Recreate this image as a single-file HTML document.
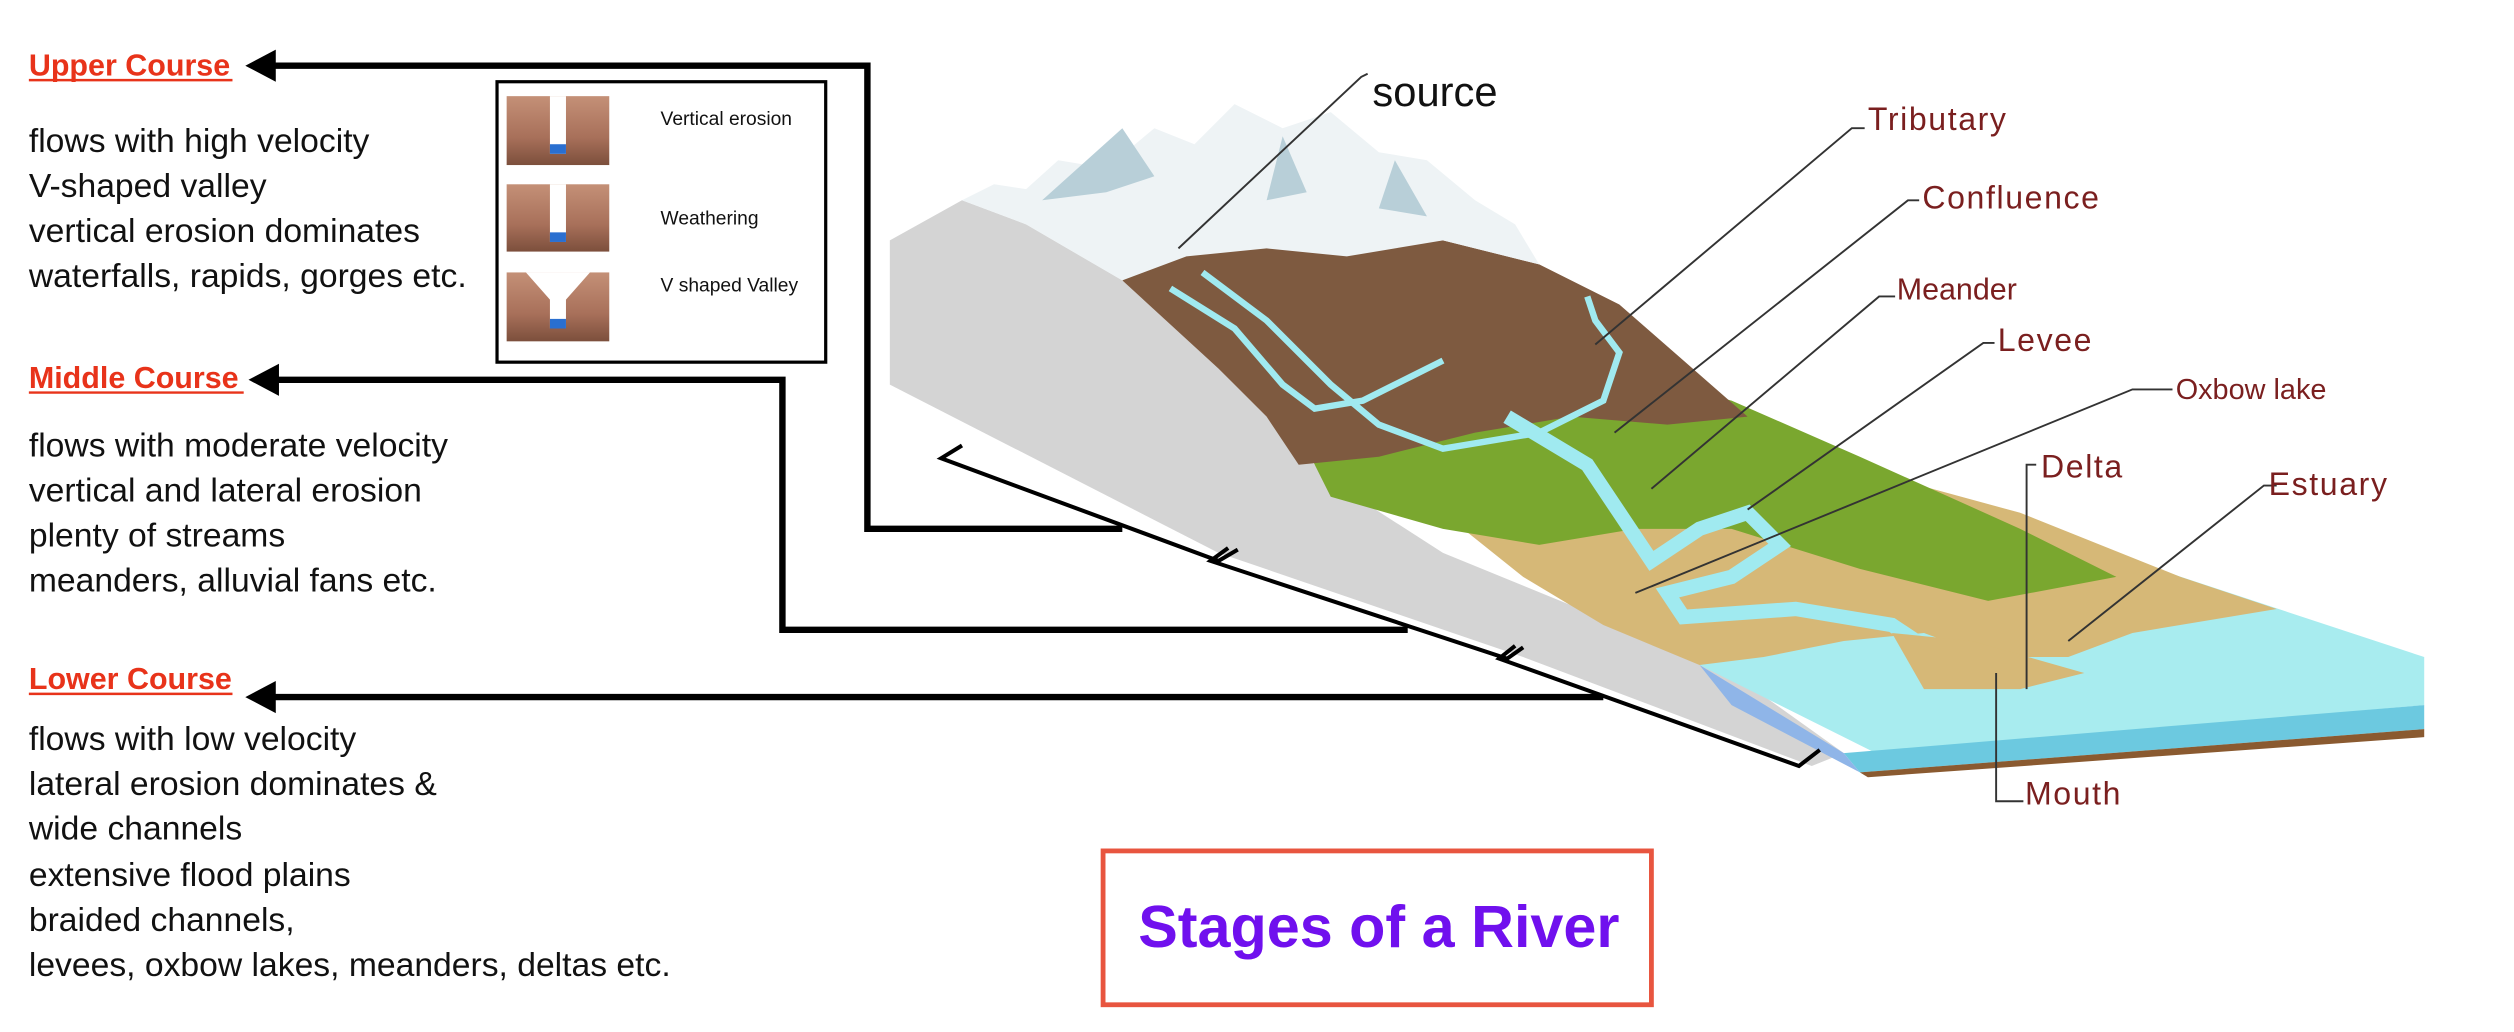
<!DOCTYPE html>
<html><head><meta charset="utf-8"><style>
html,body{margin:0;padding:0;background:#fff;}
svg{display:block;}
</style></head><body>
<svg width="2514" height="1032" viewBox="0 0 1568 644" preserveAspectRatio="none" xmlns="http://www.w3.org/2000/svg" font-family="'Liberation Sans', sans-serif">
<defs>
<linearGradient id="br" x1="0" y1="0" x2="0" y2="1"><stop offset="0" stop-color="#c49077"/><stop offset="0.6" stop-color="#a8705a"/><stop offset="1" stop-color="#7c4f3c"/></linearGradient>
</defs>
<rect width="1568" height="644" fill="#fff"/>

<!-- gray side face -->
<polygon points="555,150 600,125 640,140 700,175 760,230 830,300 900,345 1010,390 1080,420 1150,470 1130,478 950,410 760,345 555,240" fill="#d4d4d4"/>
<!-- sea top -->
<polygon points="1060,415 1200,355 1330,350 1512,410 1512,440 1170,470" fill="#a8ecef"/>
<polygon points="1150,470 1512,440 1512,455 1160,482" fill="#6cc9e0"/>
<polygon points="1160,482 1512,455 1512,460 1165,485" fill="#8a5a30"/>
<polygon points="1060,415 1150,470 1160,482 1080,440" fill="#8fb5e8"/>
<!-- tan plain -->
<polygon points="900,320 1020,300 1150,290 1260,320 1360,360 1420,380 1330,395 1290,410 1240,410 1200,395 1150,400 1100,410 1060,415 1000,390 950,360" fill="#d6b877"/>
<!-- green -->
<polygon points="800,250 900,220 1000,230 1080,250 1160,285 1260,330 1320,360 1240,375 1160,355 1080,330 1020,330 960,340 900,330 830,310" fill="#7aa72f"/>
<!-- brown mountains -->
<polygon points="700,175 740,150 790,150 840,155 900,150 960,165 1010,190 1050,225 1090,260 1040,265 980,260 920,270 860,285 810,290 790,260 760,230" fill="#7e5a40"/>
<!-- snow -->
<polygon points="600,125 620,115 640,118 660,100 690,105 720,80 745,90 770,65 800,80 830,70 860,95 890,100 920,125 945,140 960,165 900,150 840,160 790,155 740,160 700,175 640,140" fill="#eef3f5"/>
<polygon points="700,80 720,110 690,120 650,125" fill="#b8cfd8"/>
<polygon points="800,85 815,120 790,125" fill="#b8cfd8"/>
<polygon points="870,100 890,135 860,130" fill="#b8cfd8"/>
<!-- river -->
<polyline points="730,180 770,205 800,240 820,255 850,250 880,235 900,225" fill="none" stroke="#a0eaf0" stroke-width="4"/>
<polyline points="750,170 790,200 830,240 860,265 900,280 960,270 1000,250 1010,220 995,200 990,185" fill="none" stroke="#a0eaf0" stroke-width="4"/>
<polyline points="940,260 990,290 1010,320 1030,350 1060,330 1090,320 1110,340 1080,360 1040,370 1050,385 1120,380 1180,390 1210,410 1240,420" fill="none" stroke="#a0eaf0" stroke-width="9"/>
<polygon points="1180,395 1230,400 1300,420 1260,430 1200,430" fill="#d6b877"/>

<!-- brackets -->
<g stroke="#000" stroke-width="2.5" fill="none">
<polyline points="600,278 587,286 760,350 772,343"/>
<polyline points="766,342 755,350 940,411 950,404"/>
<polyline points="945,403 935,411 1122,478 1135,468"/>
</g>

<!-- arrows -->
<g stroke="#000" stroke-width="4" fill="none">
<polyline points="170,41 541,41 541,330 700,330"/>
<polyline points="172,237 488,237 488,393 878,393"/>
<polyline points="170,435 1000,435"/>
</g>
<polygon points="153,41 172,31 172,51" fill="#000"/>
<polygon points="155,237 174,227 174,247" fill="#000"/>
<polygon points="153,435 172,425 172,445" fill="#000"/>

<!-- left text -->
<text x="18" y="47" font-size="19" font-weight="bold" fill="#e8331a">Upper Course</text>
<line x1="18" y1="50" x2="145" y2="50" stroke="#e8331a" stroke-width="1.5"/>
<text x="18" y="242" font-size="19" font-weight="bold" fill="#e8331a">Middle Course</text>
<line x1="18" y1="245" x2="152" y2="245" stroke="#e8331a" stroke-width="1.5"/>
<text x="18" y="430" font-size="19" font-weight="bold" fill="#e8331a">Lower Course</text>
<line x1="18" y1="433" x2="145" y2="433" stroke="#e8331a" stroke-width="1.5"/>
<g font-size="21" fill="#111">
<text x="18" y="95">flows with high velocity</text>
<text x="18" y="123">V-shaped valley</text>
<text x="18" y="151">vertical erosion dominates</text>
<text x="18" y="179">waterfalls, rapids, gorges etc.</text>
<text x="18" y="285">flows with moderate velocity</text>
<text x="18" y="313">vertical and lateral erosion</text>
<text x="18" y="341">plenty of streams</text>
<text x="18" y="369">meanders, alluvial fans etc.</text>
<text x="18" y="468">flows with low velocity</text>
<text x="18" y="496">lateral erosion dominates &amp;</text>
<text x="18" y="524">wide channels</text>
<text x="18" y="553">extensive flood plains</text>
<text x="18" y="581">braided channels,</text>
<text x="18" y="609">levees, oxbow lakes, meanders, deltas etc.</text>
</g>

<!-- inset -->
<rect x="310" y="51" width="205" height="175" fill="#fff" stroke="#000" stroke-width="2"/>
<rect x="316" y="60" width="64" height="43" fill="url(#br)"/>
<rect x="343" y="60" width="10" height="36" fill="#fff"/><rect x="343" y="90" width="10" height="6" fill="#2a6fd0"/>
<rect x="316" y="115" width="64" height="42" fill="url(#br)"/>
<rect x="343" y="115" width="10" height="36" fill="#fff"/><rect x="343" y="145" width="10" height="6" fill="#2a6fd0"/>
<rect x="316" y="170" width="64" height="43" fill="url(#br)"/>
<polygon points="328,170 343,187 343,205 353,205 353,187 368,170" fill="#fff"/>
<rect x="343" y="199" width="10" height="6" fill="#2a6fd0"/>
<g font-size="12" fill="#111">
<text x="412" y="78">Vertical erosion</text>
<text x="412" y="140">Weathering</text>
<text x="412" y="182">V shaped Valley</text>
</g>

<!-- labels -->
<g stroke="#333" stroke-width="1.2" fill="none">
<polyline points="853,46 849,48 735,155"/>
<polyline points="1163,80 1155,80 995,215"/>
<polyline points="1197,125 1190,125 1007,270"/>
<polyline points="1182,185 1172,185 1030,305"/>
<polyline points="1244,214 1237,214 1090,318"/>
<polyline points="1355,243 1330,243 1020,370"/>
<polyline points="1270,290 1264,290 1264,430"/>
<polyline points="1420,303 1412,303 1290,400"/>
<polyline points="1262,500 1245,500 1245,420"/>
</g>
<text x="856" y="66" font-size="26" fill="#111">source</text>
<g font-size="20" fill="#7a1f1f" letter-spacing="1">
<text x="1165" y="81">Tributary</text>
<text x="1199" y="130">Confluence</text>
<text x="1183" y="187" letter-spacing="0" font-size="19">Meander</text>
<text x="1246" y="219">Levee</text>
<text x="1357" y="249" letter-spacing="0" font-size="18">Oxbow lake</text>
<text x="1273" y="298">Delta</text>
<text x="1415" y="309">Estuary</text>
<text x="1263" y="502">Mouth</text>
</g>

<!-- title -->
<rect x="688" y="531" width="342" height="96" fill="#fff" stroke="#e8553f" stroke-width="3"/>
<text x="860" y="591" font-size="37" font-weight="bold" fill="#7010ee" text-anchor="middle">Stages of a River</text>
</svg>
</body></html>
